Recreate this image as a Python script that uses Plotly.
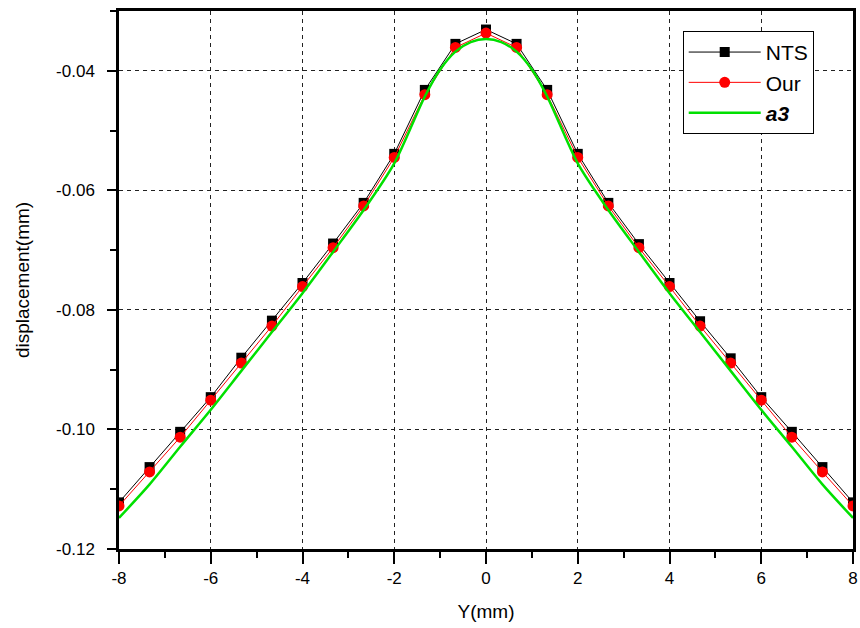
import plotly.graph_objects as go

# Sample positions along Y (mm)
y_pos = [-8, -22/3, -20/3, -6, -16/3, -14/3, -4, -10/3, -8/3, -2, -4/3, -2/3, 0,
         2/3, 4/3, 2, 8/3, 10/3, 4, 14/3, 16/3, 6, 20/3, 22/3, 8]

# Displacement (mm), NTS reference solution
nts = [-0.1122, -0.1063, -0.1004, -0.0946, -0.0880, -0.0818, -0.0755, -0.0689,
       -0.0621, -0.0539, -0.0432, -0.0355, -0.0331,
       -0.0355, -0.0432, -0.0539, -0.0621, -0.0690, -0.0755, -0.0819, -0.0881,
       -0.0946, -0.1004, -0.1063, -0.1122]

# Displacement (mm), our method
our = [-0.1128, -0.1071, -0.1013, -0.0951, -0.0889, -0.0827, -0.0761, -0.0696,
       -0.0626, -0.0545, -0.0440, -0.0361, -0.0337,
       -0.0361, -0.0440, -0.0545, -0.0626, -0.0696, -0.0761, -0.0827, -0.0889,
       -0.0951, -0.1013, -0.1071, -0.1128]

# a3 curve, sampled more densely near the peak
a3_pos = [-8, -22/3, -20/3, -6, -16/3, -14/3, -4, -10/3, -8/3, -2, -4/3, -1, -2/3, -1/3, 0,
          1/3, 2/3, 1, 4/3, 2, 8/3, 10/3, 4, 14/3, 16/3, 6, 20/3, 22/3, 8]
a3 = [-0.1148, -0.1092, -0.1029, -0.0967, -0.0902, -0.0837, -0.0772, -0.0703, -0.0633,
      -0.0555, -0.0443, -0.0398, -0.0368, -0.0352, -0.0347,
      -0.0352, -0.0368, -0.0398, -0.0443, -0.0555, -0.0633, -0.0703, -0.0772, -0.0837,
      -0.0902, -0.0967, -0.1029, -0.1092, -0.1148]

x_ticks = [-8, -6, -4, -2, 0, 2, 4, 6, 8]
x_tick_text = ["-8", "-6", "-4", "-2", "0", "2", "4", "6", "8"]
x_minor = [-7, -5, -3, -1, 1, 3, 5, 7]
y_ticks = [-0.12, -0.10, -0.08, -0.06, -0.04]
y_tick_text = ["-0.12", "-0.10", "-0.08", "-0.06", "-0.04"]
y_minor = [-0.11, -0.09, -0.07, -0.05, -0.03]

FONT = "Liberation Sans, Arial, sans-serif"

fig = go.Figure()
fig.add_trace(go.Scatter(
    x=y_pos, y=nts, name="NTS", mode="lines+markers",
    line=dict(color="black", width=1),
    marker=dict(symbol="square", size=10, color="black"),
))
fig.add_trace(go.Scatter(
    x=y_pos, y=our, name="Our", mode="lines+markers",
    line=dict(color="#ff0000", width=1),
    marker=dict(symbol="circle", size=11, color="#ff0000"),
))
fig.add_trace(go.Scatter(
    x=a3_pos, y=a3, name="<b><i>a3</i></b>", mode="lines",
    line=dict(color="#00e000", width=2.5, shape="spline", smoothing=0.8),
))

axis_common = dict(
    showline=True, linecolor="black", linewidth=2.5, mirror=True,
    ticks="outside", tickcolor="black", tickwidth=2,
    showgrid=True, gridcolor="#222222", gridwidth=1, griddash="4px,4px",
    zeroline=False, automargin=False,
    tickfont=dict(family=FONT, size=17, color="black"),
)

fig.update_xaxes(
    **axis_common,
    range=[-8, 8],
    tickmode="array", tickvals=x_ticks, ticktext=x_tick_text,
    ticklen=12,
    minor=dict(tickmode="array", tickvals=x_minor, ticks="outside",
               ticklen=6, tickwidth=2, tickcolor="black", showgrid=False),
    title=dict(text="Y(mm)", font=dict(family=FONT, size=19, color="black"), standoff=18),
)
fig.update_yaxes(
    **axis_common,
    range=[-0.12, -0.03],
    tickmode="array", tickvals=y_ticks, ticktext=y_tick_text,
    ticklen=9, ticklabelstandoff=9,
    minor=dict(tickmode="array", tickvals=y_minor, ticks="outside",
               ticklen=6, tickwidth=2, tickcolor="black", showgrid=False),
    title=dict(text="displacement(mm)", font=dict(family=FONT, size=19, color="black"), standoff=22),
)

fig.update_layout(
    width=860, height=628,
    margin=dict(l=119, r=7, t=11, b=79),
    paper_bgcolor="white", plot_bgcolor="white",
    font=dict(family=FONT, color="black"),
    showlegend=True,
    legend=dict(
        x=0.768, y=0.963, xanchor="left", yanchor="top",
        bgcolor="white", bordercolor="black", borderwidth=1,
        font=dict(family=FONT, size=21, color="black"),
        itemwidth=72, tracegroupgap=0,
    ),
)

fig.write_html("out.html")
